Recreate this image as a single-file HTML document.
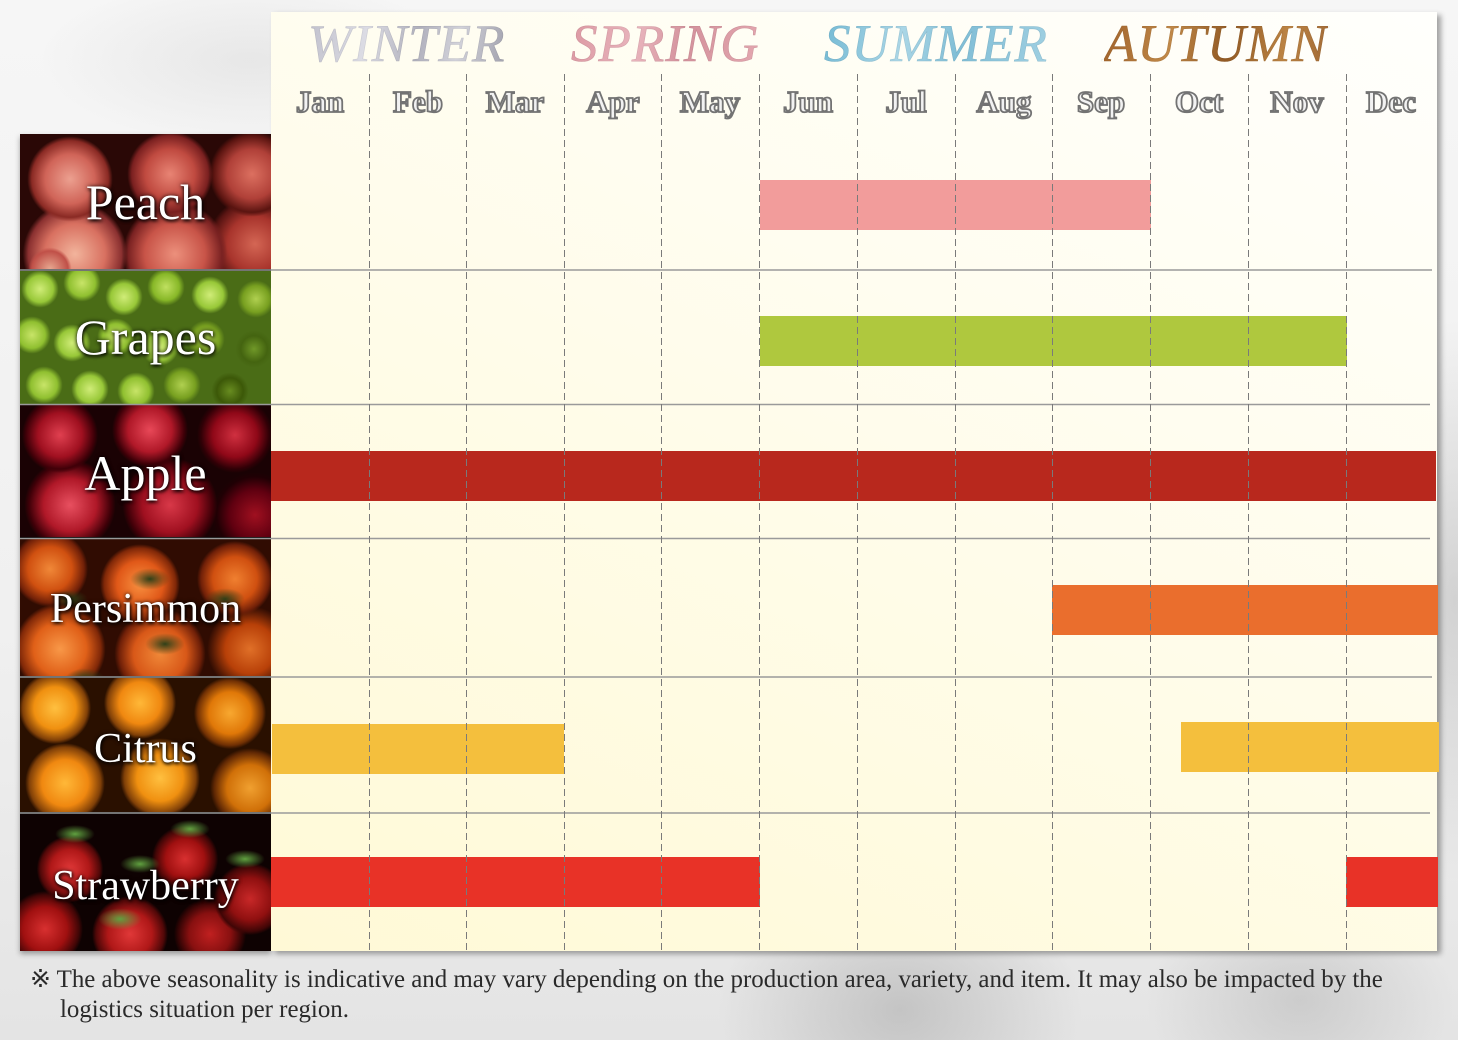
<!DOCTYPE html>
<html><head><meta charset="utf-8"><style>
*{margin:0;padding:0;box-sizing:border-box}
html,body{width:1458px;height:1040px;overflow:hidden}
body{position:relative;font-family:"Liberation Serif",serif;
background:
radial-gradient(ellipse 300px 120px at 250px 60px,rgba(150,150,150,.15),transparent 70%),
radial-gradient(ellipse 260px 200px at 900px 1010px,rgba(120,120,120,.3),transparent 70%),
radial-gradient(ellipse 220px 160px at 1300px 1000px,rgba(130,130,130,.25),transparent 70%),
radial-gradient(ellipse 140px 400px at 1455px 600px,rgba(140,140,140,.3),transparent 70%),
linear-gradient(180deg,#f6f6f6 0%,#f0f0f0 60%,#e4e4e4 100%);}
.abs{position:absolute}
.panel{left:271px;top:12px;width:1166px;height:939px;
background:linear-gradient(205deg,#fffffc 0%,#fffdf0 35%,#fffbe2 70%,#fff9d6 100%);
box-shadow:4px 3px 5px rgba(60,60,60,.45);}
.leftpanel{left:20px;top:134px;width:251px;height:817px;background:#000;box-shadow:0 3px 5px rgba(60,60,60,.45)}
.season{top:14px;font-style:italic;font-size:53px;line-height:60px;letter-spacing:1px;
-webkit-background-clip:text;background-clip:text;color:transparent;white-space:nowrap;
-webkit-text-stroke:0.6px rgba(0,0,0,0.08)}
.month{top:80px;font-size:31px;font-weight:bold;line-height:44px;color:#f2f2f2;-webkit-text-stroke:1.8px #737373;
width:98px;text-align:center;white-space:nowrap}
.img{left:20px;width:251px;overflow:hidden}
.lab{position:absolute;left:0;width:251px;text-align:center;color:#fff;white-space:nowrap;
text-shadow:0 0 4px rgba(0,0,0,.9),1px 2px 3px rgba(0,0,0,.8)}
.bar{position:absolute;height:50px}
.foot{font-size:24.9px;color:#2a2a2a;white-space:nowrap;line-height:30px}
</style></head><body>

<div class="abs leftpanel"></div>
<div class="abs panel"></div>

<!-- seasons -->
<div class="abs season" style="left:308px;background-image:linear-gradient(100deg,#c0c0cc,#dcdce4 30%,#b0b0bc 55%,#d2d2da 75%,#a0a0ac)">WINTER</div>
<div class="abs season" style="left:571px;background-image:linear-gradient(100deg,#dc98a2,#e8b4bc 35%,#d4929c 60%,#e4a8b0)">SPRING</div>
<div class="abs season" style="left:824px;background-image:linear-gradient(100deg,#74bad4,#aad6e6 35%,#80bed6 60%,#a0d0e2)">SUMMER</div>
<div class="abs season" style="left:1104px;background-image:linear-gradient(100deg,#a0622a,#c08848 30%,#925a24 55%,#bc8444 80%,#a06834)">AUTUMN</div>

<!-- months -->
<div class="abs month" style="left:271px">Jan</div>
<div class="abs month" style="left:369px">Feb</div>
<div class="abs month" style="left:466px">Mar</div>
<div class="abs month" style="left:564px">Apr</div>
<div class="abs month" style="left:661px">May</div>
<div class="abs month" style="left:759px">Jun</div>
<div class="abs month" style="left:857px">Jul</div>
<div class="abs month" style="left:955px">Aug</div>
<div class="abs month" style="left:1052px">Sep</div>
<div class="abs month" style="left:1150px">Oct</div>
<div class="abs month" style="left:1248px">Nov</div>
<div class="abs month" style="left:1342px">Dec</div>

<!-- fruit images -->
<div class="abs img" style="top:134px;height:135px;background:
radial-gradient(circle 30px at 30px 135px,#e8a890,#c05048 60%,transparent 72%),
radial-gradient(circle 45px at 50px 45px,#eca090,#d06458 55%,#8a2a24 85%,transparent 95%),
radial-gradient(circle 45px at 150px 40px,#e88474,#c04a40 55%,#7a2020 85%,transparent 95%),
radial-gradient(circle 45px at 232px 40px,#dc7060,#b04038 55%,#5a1410 85%,transparent 95%),
radial-gradient(circle 55px at 55px 120px,#f2b49c,#d87060 55%,#8a3030 85%,transparent 95%),
radial-gradient(circle 55px at 155px 120px,#ec907c,#c85448 55%,#7a2222 85%,transparent 95%),
radial-gradient(circle 50px at 235px 110px,#d46654,#a8342c 55%,#581412 85%,transparent 95%),
#2a0806"><div class="lab" style="top:38px;font-size:50px;line-height:60px">Peach</div></div>

<div class="abs img" style="top:271px;height:133px;background:
radial-gradient(circle 22px at 20px 18px,#d0ec78,#98c838 60%,transparent 85%),
radial-gradient(circle 22px at 62px 12px,#c8e468,#90c030 60%,transparent 85%),
radial-gradient(circle 22px at 104px 26px,#d0ec78,#98c838 60%,transparent 85%),
radial-gradient(circle 22px at 146px 16px,#c0e060,#88b828 60%,transparent 85%),
radial-gradient(circle 22px at 190px 24px,#d0ec78,#98c838 60%,transparent 85%),
radial-gradient(circle 22px at 236px 28px,#b0d050,#78a020 60%,transparent 85%),
radial-gradient(circle 22px at 12px 64px,#c8e468,#90c030 60%,transparent 85%),
radial-gradient(circle 22px at 52px 72px,#d0ec78,#98c838 60%,transparent 85%),
radial-gradient(circle 22px at 96px 66px,#c8e468,#90c030 60%,transparent 85%),
radial-gradient(circle 22px at 140px 76px,#d0ec78,#98c838 60%,transparent 85%),
radial-gradient(circle 22px at 186px 68px,#b0d050,#78a020 60%,transparent 85%),
radial-gradient(circle 22px at 234px 78px,#709828,#446410 60%,transparent 85%),
radial-gradient(circle 22px at 24px 114px,#c8e468,#90c030 60%,transparent 85%),
radial-gradient(circle 22px at 70px 118px,#d0ec78,#98c838 60%,transparent 85%),
radial-gradient(circle 22px at 116px 120px,#c8e468,#90c030 60%,transparent 85%),
radial-gradient(circle 22px at 162px 114px,#b0d050,#78a020 60%,transparent 85%),
radial-gradient(circle 22px at 210px 120px,#688c20,#3c5808 60%,transparent 85%),
#4a6c16"><div class="lab" style="top:36px;font-size:50px;line-height:60px">Grapes</div></div>

<div class="abs img" style="top:405px;height:132px;background:
radial-gradient(circle 40px at 40px 30px,#e04050,#a01020 55%,#400008 85%,transparent 95%),
radial-gradient(circle 40px at 130px 25px,#e84858,#b01828 55%,#400008 85%,transparent 95%),
radial-gradient(circle 40px at 215px 30px,#d03040,#900818 55%,#300006 85%,transparent 95%),
radial-gradient(circle 48px at 50px 100px,#e85060,#b01828 55%,#400008 85%,transparent 95%),
radial-gradient(circle 50px at 150px 100px,#d83848,#a01020 55%,#400008 85%,transparent 95%),
radial-gradient(circle 45px at 235px 110px,#a01020,#600010 55%,#200004 85%,transparent 95%),
#1a0204"><div class="lab" style="top:38px;font-size:50px;line-height:60px">Apple</div></div>

<div class="abs img" style="top:539px;height:137px;background:
radial-gradient(ellipse 20px 10px at 50px 60px,#304018,transparent 90%),
radial-gradient(ellipse 22px 12px at 130px 40px,#304018,transparent 90%),
radial-gradient(ellipse 22px 12px at 65px 140px,#304018,transparent 90%),
radial-gradient(ellipse 22px 12px at 145px 105px,#304018,transparent 90%),
radial-gradient(ellipse 22px 12px at 205px 60px,#304018,transparent 90%),
radial-gradient(circle 40px at 30px 30px,#f08838,#d05010 55%,#702008 85%,transparent 95%),
radial-gradient(circle 42px at 120px 45px,#f89040,#e05818 55%,#802808 85%,transparent 95%),
radial-gradient(circle 40px at 215px 40px,#f08030,#d05010 55%,#702008 85%,transparent 95%),
radial-gradient(circle 48px at 40px 110px,#f89848,#e06018 55%,#802808 85%,transparent 95%),
radial-gradient(circle 48px at 140px 115px,#f08838,#d85818 55%,#702008 85%,transparent 95%),
radial-gradient(circle 45px at 230px 110px,#e07028,#b84008 55%,#501804 85%,transparent 95%),
#300c02"><div class="lab" style="top:44px;font-size:42px;line-height:52px">Persimmon</div></div>

<div class="abs img" style="top:678px;height:134px;background:
radial-gradient(circle 38px at 35px 30px,#ffc040,#f09010 55%,#804008 85%,transparent 95%),
radial-gradient(circle 38px at 120px 25px,#ffb838,#f08810 55%,#804008 85%,transparent 95%),
radial-gradient(circle 38px at 210px 35px,#f8a830,#e07808 55%,#703004 85%,transparent 95%),
radial-gradient(circle 42px at 45px 105px,#ffb838,#f08810 55%,#804008 85%,transparent 95%),
radial-gradient(circle 42px at 140px 100px,#ffc040,#f09010 55%,#804008 85%,transparent 95%),
radial-gradient(circle 42px at 230px 110px,#f0a030,#d07008 55%,#602804 85%,transparent 95%),
#2a1000"><div class="lab" style="top:45px;font-size:42px;line-height:52px">Citrus</div></div>

<div class="abs img" style="top:814px;height:137px;background:
radial-gradient(ellipse 22px 10px at 55px 20px,#60a040,transparent 90%),
radial-gradient(ellipse 22px 10px at 170px 15px,#60a040,transparent 90%),
radial-gradient(ellipse 22px 10px at 120px 50px,#60a040,transparent 90%),
radial-gradient(ellipse 22px 10px at 225px 45px,#60a040,transparent 90%),
radial-gradient(ellipse 24px 12px at 100px 105px,#60a040,transparent 90%),
radial-gradient(circle 35px at 50px 55px,#e03838,#b01818 55%,#500808 85%,transparent 95%),
radial-gradient(circle 35px at 165px 45px,#d83030,#a01010 55%,#400606 85%,transparent 95%),
radial-gradient(circle 38px at 230px 85px,#c82828,#901010 55%,#400606 85%,transparent 95%),
radial-gradient(circle 40px at 25px 115px,#d83030,#a01010 55%,#400606 85%,transparent 95%),
radial-gradient(circle 40px at 110px 120px,#e03838,#b01818 55%,#500808 85%,transparent 95%),
radial-gradient(circle 38px at 190px 120px,#c02020,#881010 55%,#300404 85%,transparent 95%),
#0e0202"><div class="lab" style="top:46px;font-size:42px;line-height:52px">Strawberry</div></div>

<!-- bars -->
<div class="bar" style="left:760px;top:180px;width:391px;background:#f29c9b"></div>
<div class="bar" style="left:760px;top:316px;width:587px;background:#afc83e"></div>
<div class="bar" style="left:271px;top:451px;width:1165px;background:#b8281d"></div>
<div class="bar" style="left:1052px;top:585px;width:386px;background:#ea6e2d"></div>
<div class="bar" style="left:272px;top:724px;width:292px;background:#f4bf3d"></div>
<div class="bar" style="left:1181px;top:722px;width:258px;background:#f4bf3d"></div>
<div class="bar" style="left:271px;top:857px;width:489px;background:#e83227"></div>
<div class="bar" style="left:1346px;top:857px;width:92px;background:#e83227"></div>

<svg class="abs" style="left:0;top:0" width="1458" height="1040">
<g stroke="#9a9a9a" stroke-width="1.6">
<line x1="20" y1="270" x2="1432" y2="270"/>
<line x1="20" y1="404.5" x2="1430" y2="404.5"/>
<line x1="20" y1="538.5" x2="1430" y2="538.5"/>
<line x1="20" y1="677" x2="1432" y2="677"/>
<line x1="20" y1="813" x2="1430" y2="813"/>
</g>
<g stroke="#7a7a7a" stroke-width="1" stroke-dasharray="7 4">
<line x1="369.5" y1="74" x2="369.5" y2="951"/>
<line x1="466.5" y1="74" x2="466.5" y2="951"/>
<line x1="564.5" y1="74" x2="564.5" y2="951"/>
<line x1="661.5" y1="74" x2="661.5" y2="951"/>
<line x1="759.5" y1="74" x2="759.5" y2="951"/>
<line x1="857.5" y1="74" x2="857.5" y2="951"/>
<line x1="955.5" y1="74" x2="955.5" y2="951"/>
<line x1="1052.5" y1="74" x2="1052.5" y2="951"/>
<line x1="1150.5" y1="74" x2="1150.5" y2="951"/>
<line x1="1248.5" y1="74" x2="1248.5" y2="951"/>
<line x1="1346.5" y1="74" x2="1346.5" y2="951"/>
</g>
</svg>

<div class="abs foot" style="left:30px;top:965px">※ The above seasonality is indicative and may vary depending on the production area, variety, and item. It may also be impacted by the</div>
<div class="abs foot" style="left:60px;top:995px">logistics situation per region.</div>
</body></html>
